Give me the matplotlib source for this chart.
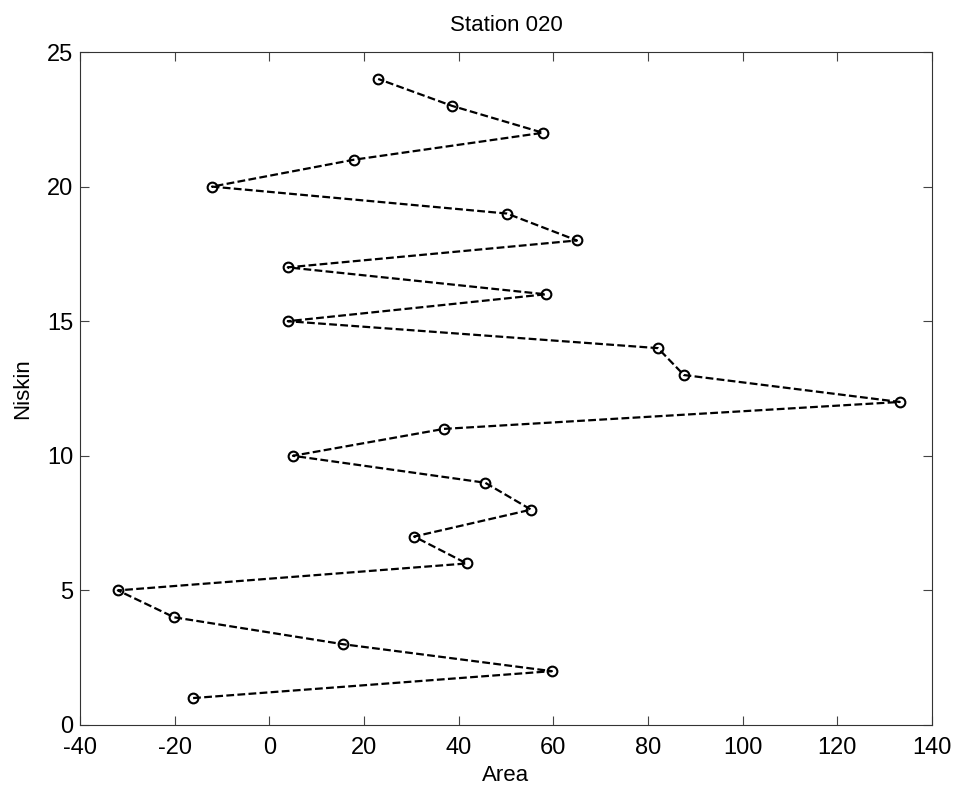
import numpy as np
import matplotlib
matplotlib.use('Agg')
import matplotlib.pyplot as plt

# 站位資料
station = '020'
niskin = list(range(1, 25))
area = [-16.1, 59.7, 15.6, -20.1, -32.0, 41.7, 30.6, 55.3, 45.6, 5.0,
        36.9, 133.2, 87.6, 82.1, 3.9, 58.4, 3.9, 65.0, 50.2, -12.1,
        17.9, 57.8, 38.6, 23.0]

plt.rcParams['font.family'] = ['Liberation Sans', 'DejaVu Sans']
plt.rcParams['axes.unicode_minus'] = False  # MATLAB 風格的負號

fig = plt.figure(figsize=(9.59, 7.87), dpi=100)
ax = fig.add_axes([0.0834, 0.0788, 0.8884, 0.8551])

ax.plot(area, niskin, 'k--', lw=1.6, dashes=(3.5, 1.5),
        marker='o', markersize=7, markerfacecolor='none',
        markeredgecolor='k', markeredgewidth=1.5)

ax.set_xlim(-40, 140)
ax.set_ylim(0, 25)
ax.set_xticks(np.arange(-40, 141, 20))
ax.set_yticks(np.arange(0, 26, 5))
ax.tick_params(direction='in', top=True, right=True, labelsize=17,
               length=6.5, width=0.8, color='#444444')
ax.tick_params(axis='x', pad=9)
ax.tick_params(axis='y', pad=5)
for s in ax.spines.values():
    s.set_linewidth(0.8)
    s.set_color('#333333')

ax.set_xlabel('Area', fontsize=16, labelpad=4)
ax.set_ylabel('Niskin', fontsize=16, labelpad=10)
ax.set_title(f'Station {station}', fontsize=16, pad=15)

fig.savefig('out.png', dpi=100)
